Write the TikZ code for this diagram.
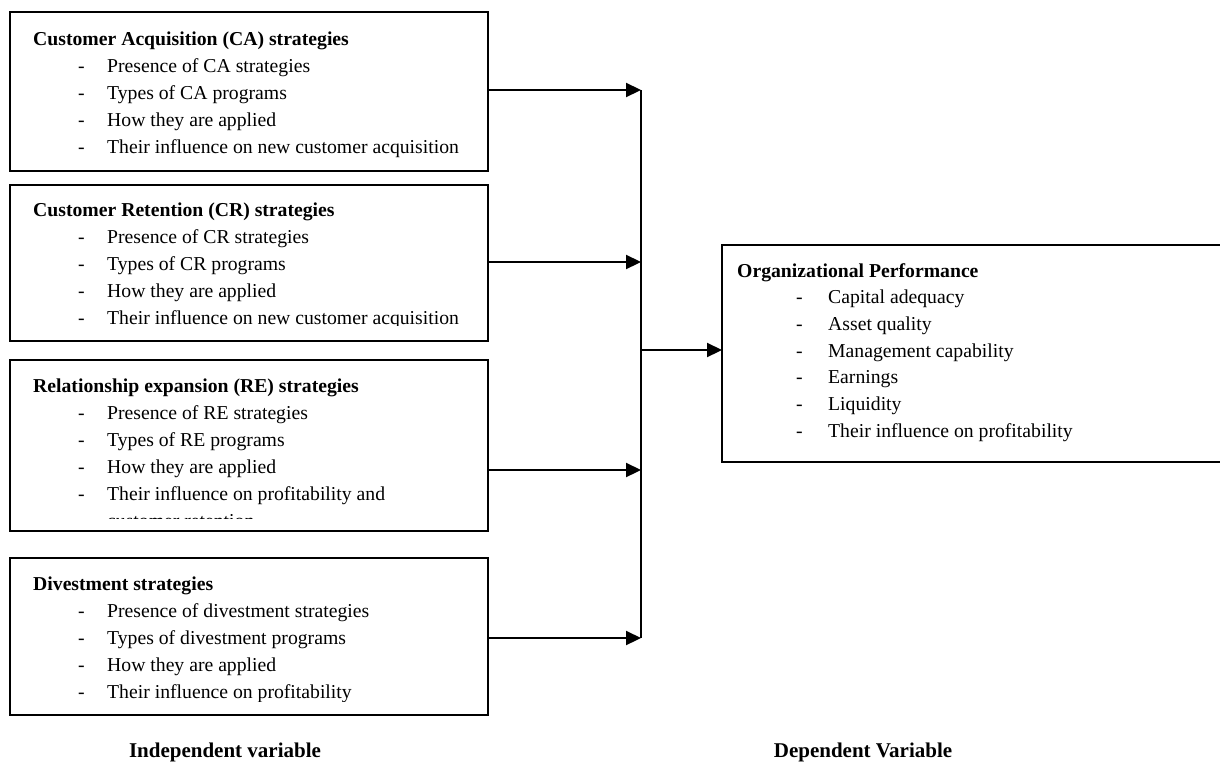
\documentclass[tikz,border=0pt]{standalone}
\usepackage{fontspec}
\setmainfont{Liberation Serif}
\usetikzlibrary{arrows.meta}
\tikzset{
  panel/.style={draw, line width=1.5pt, anchor=north west, inner sep=0pt, outer sep=0pt},
  ttl/.style={anchor=base west, inner sep=0pt, font=\fontsize{19.7}{24}\selectfont\bfseries},
  itm/.style={anchor=base west, inner sep=0pt, font=\fontsize{19.7}{24}\selectfont},
  lbl/.style={anchor=base, inner sep=0pt, font=\fontsize{21}{24}\selectfont\bfseries},
  link/.style={line width=2.2pt, -{Triangle[length=15pt,width=14pt]}},
  rail/.style={line width=1.6pt}
}
\begin{document}
\begin{tikzpicture}[x=1pt,y=-1pt]
\useasboundingbox (0,0) rectangle (1220,766);

% ---------- boxes ----------
\node[panel, minimum width=478pt, minimum height=159pt] (ca) at (10,12) {};
\node[panel, minimum width=478pt, minimum height=156pt] (cr) at (10,185) {};
\node[panel, minimum width=478pt, minimum height=171pt] (re) at (10,360) {};
\node[panel, minimum width=478pt, minimum height=157pt] (dv) at (10,558) {};
\node[panel, minimum width=560pt, minimum height=217pt] (op) at (722,245) {};

% ---------- CA text ----------
\begin{scope}
\clip (11,13) rectangle (487,170);
\node[ttl] (ca-t) at (33,45) {Customer Acquisition (CA) strategies};
\foreach \t [count=\i] in {Presence of CA strategies, Types of CA programs, How they are applied, Their influence on new customer acquisition}{
  \node[itm] (ca-d\i) at (78,45+27*\i) {-};
  \node[itm] (ca-\i) at (107,45+27*\i) {\t};
}
\end{scope}

% ---------- CR text ----------
\begin{scope}
\clip (11,186) rectangle (487,325);
\node[ttl] (cr-t) at (33,216) {Customer Retention (CR) strategies};
\foreach \t [count=\i] in {Presence of CR strategies, Types of CR programs, How they are applied, Their influence on new customer acquisition}{
  \node[itm] (cr-d\i) at (78,216+27*\i) {-};
  \node[itm] (cr-\i) at (107,216+27*\i) {\t};
}
\end{scope}

% ---------- RE text ----------
\begin{scope}
\clip (11,361) rectangle (487,518);
\node[ttl] (re-t) at (33,392) {Relationship expansion (RE) strategies};
\foreach \t [count=\i] in {Presence of RE strategies, Types of RE programs, How they are applied, Their influence on profitability and}{
  \node[itm] (re-d\i) at (78,392+27*\i) {-};
  \node[itm] (re-\i) at (107,392+27*\i) {\t};
}
\node[itm] (re-5) at (107,392+27*5) {customer retention};
\end{scope}

% ---------- DV text ----------
\begin{scope}
\clip (11,559) rectangle (487,701);
\node[ttl] (dv-t) at (33,590) {Divestment strategies};
\foreach \t [count=\i] in {Presence of divestment strategies, Types of divestment programs, How they are applied, Their influence on profitability}{
  \node[itm] (dv-d\i) at (78,590+27*\i) {-};
  \node[itm] (dv-\i) at (107,590+27*\i) {\t};
}
\end{scope}

% ---------- OP text ----------
\node[ttl] (op-t) at (737,277) {Organizational Performance};
\foreach \t [count=\i] in {Capital adequacy, Asset quality, Management capability, Earnings, Liquidity, Their influence on profitability}{
  \node[itm] (op-d\i) at (796,277+26.7*\i) {-};
  \node[itm] (op-\i) at (828,277+26.7*\i) {\t};
}

% ---------- connectors ----------
\coordinate (railtop) at (641,90);
\coordinate (railbot) at (641,638);
\coordinate (hub) at (641,350);
\draw[rail] (railtop) -- (railbot);
\draw[link] (ca.east |- railtop) -- (railtop);
\draw[link] ([yshift=1pt]cr.east) -- ([yshift=1pt]cr.east -| railtop);
\draw[link] ([yshift=-24.5pt]re.east) -- ([yshift=-24.5pt]re.east -| railtop);
\draw[link] (dv.east |- railbot) -- (railbot);
\draw[link] (hub) -- (op.west |- hub);

% ---------- labels ----------
\node[lbl] (indep) at (225,757) {Independent variable};
\node[lbl] (dep) at (863,757) {Dependent Variable};
\end{tikzpicture}
\end{document}
